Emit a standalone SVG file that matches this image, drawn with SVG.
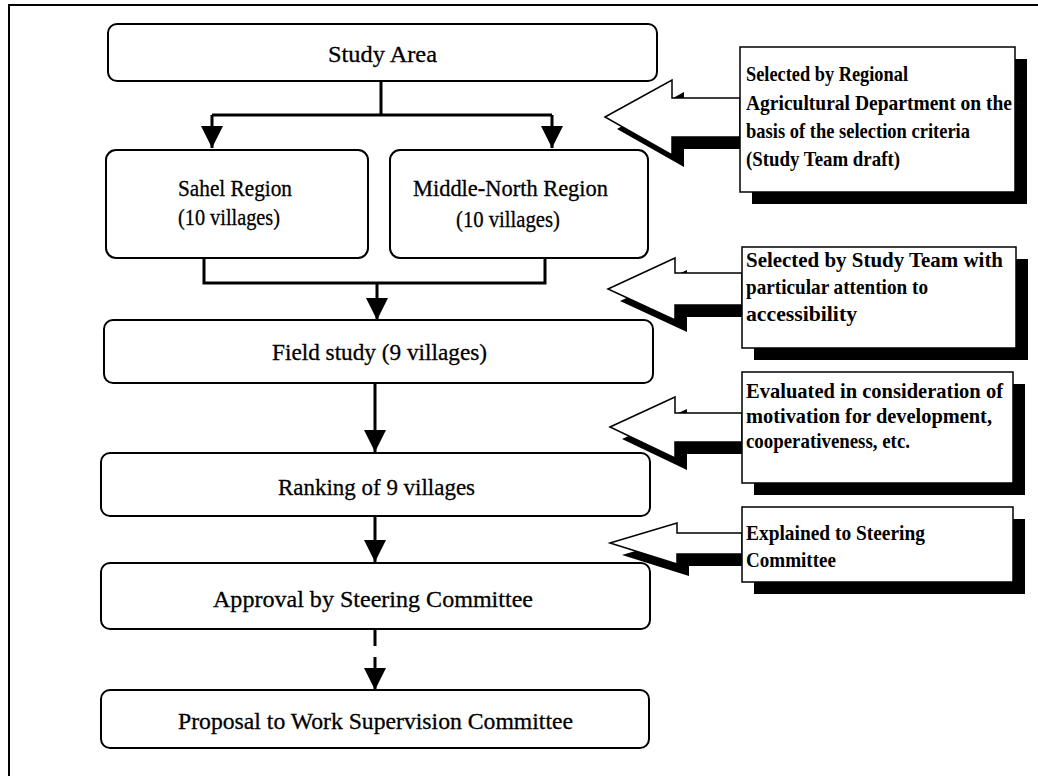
<svg xmlns="http://www.w3.org/2000/svg" width="1038" height="776" viewBox="0 0 1038 776">
  <style>
    .frame { fill: none; stroke: #000; stroke-width: 2; }
    .box { fill: #fff; stroke: #000; stroke-width: 2; }
    .note { fill: #fff; stroke: #000; stroke-width: 1.5; }
    .shadow { fill: #000; stroke: none; }
    .link { fill: none; stroke: #000; stroke-width: 3; }
    .t { font-family: "Liberation Serif", "Times New Roman", serif; font-size: 24px; fill: #000; stroke: #000; stroke-width: 0.3; }
    .n { font-family: "Liberation Serif", "Times New Roman", serif; font-size: 21px; font-weight: bold; fill: #000; }
  </style>
  <defs>
    <marker id="head" markerUnits="userSpaceOnUse" markerWidth="22" markerHeight="22" refX="22" refY="11" orient="auto">
      <path d="M0,0 L22,11 L0,22 Z" fill="#000"/>
    </marker>
  </defs>

  <rect width="1038" height="776" fill="#fff"/>

  <!-- frame: top and left edges -->
  <path class="frame" d="M9,776 V5 H1038"/>

  <!-- flow boxes -->
  <g id="study-area">
    <rect class="box" x="108" y="24" width="549" height="57" rx="9"/>
    <text class="t" x="328" y="62" textLength="109" lengthAdjust="spacingAndGlyphs">Study Area</text>
  </g>
  <g id="sahel-region">
    <rect class="box" x="106" y="150" width="262" height="108" rx="10"/>
    <text class="t" x="178" y="196" textLength="114" lengthAdjust="spacingAndGlyphs">Sahel Region</text>
    <text class="t" x="178" y="225" textLength="102" lengthAdjust="spacingAndGlyphs">(10 villages)</text>
  </g>
  <g id="middle-north-region">
    <rect class="box" x="390" y="150" width="258" height="108" rx="10"/>
    <text class="t" x="413" y="196" textLength="195" lengthAdjust="spacingAndGlyphs">Middle-North Region</text>
    <text class="t" x="456" y="227" textLength="104" lengthAdjust="spacingAndGlyphs">(10 villages)</text>
  </g>
  <g id="field-study">
    <rect class="box" x="104" y="320" width="549" height="63" rx="9"/>
    <text class="t" x="272" y="360" textLength="215" lengthAdjust="spacingAndGlyphs">Field study (9 villages)</text>
  </g>
  <g id="ranking">
    <rect class="box" x="101" y="453" width="549" height="63" rx="9"/>
    <text class="t" x="278" y="495" textLength="197" lengthAdjust="spacingAndGlyphs">Ranking of 9 villages</text>
  </g>
  <g id="approval">
    <rect class="box" x="101" y="563" width="549" height="66" rx="9"/>
    <text class="t" x="213" y="607" textLength="320" lengthAdjust="spacingAndGlyphs">Approval by Steering Committee</text>
  </g>
  <g id="proposal">
    <rect class="box" x="101" y="690" width="548" height="58" rx="9"/>
    <text class="t" x="178" y="729" textLength="395" lengthAdjust="spacingAndGlyphs">Proposal to Work Supervision Committee</text>
  </g>

  <!-- connectors -->
  <g id="connectors">
    <path class="link" d="M381,81 V115"/>
    <path class="link" d="M212,115 H552"/>
    <path class="link" d="M212,115 V148" marker-end="url(#head)"/>
    <path class="link" d="M552,115 V148" marker-end="url(#head)"/>
    <path class="link" d="M204,258 V283 H545 V258"/>
    <path class="link" d="M377,283 V320" marker-end="url(#head)"/>
    <path class="link" d="M375,383 V452" marker-end="url(#head)"/>
    <path class="link" d="M375,516 V562" marker-end="url(#head)"/>
    <path class="link" d="M375,629 V646"/>
    <path class="link" d="M375,657 V690" marker-end="url(#head)"/>
  </g>

  <!-- callout 1 -->
  <g id="note-selection-criteria">
    <path class="shadow" transform="translate(12,12)" d="M605,117 L672,80 V98 H740 V47 H1015 V192 H740 V137 H672 V155 Z"/>
    <path class="note" d="M605,117 L672,80 V98 H740 V137 H672 V155 Z"/>
    <rect class="note" x="740" y="47" width="275" height="145"/>
    <text class="n" x="746" y="81" textLength="162" lengthAdjust="spacingAndGlyphs">Selected by Regional</text>
    <text class="n" x="746" y="110" textLength="266" lengthAdjust="spacingAndGlyphs">Agricultural Department on the</text>
    <text class="n" x="746" y="138" textLength="224" lengthAdjust="spacingAndGlyphs">basis of the selection criteria</text>
    <text class="n" x="746" y="166" textLength="154" lengthAdjust="spacingAndGlyphs">(Study Team draft)</text>
  </g>

  <!-- callout 2 -->
  <g id="note-accessibility">
    <path class="shadow" transform="translate(12,12)" d="M608,289 L675,258 V273 H742 V247 H1016 V348 H742 V305 H675 V320 Z"/>
    <path class="note" d="M608,289 L675,258 V273 H742 V305 H675 V320 Z"/>
    <rect class="note" x="742" y="247" width="274" height="101"/>
    <text class="n" x="746" y="267" textLength="257" lengthAdjust="spacingAndGlyphs">Selected by Study Team with</text>
    <text class="n" x="746" y="294" textLength="182" lengthAdjust="spacingAndGlyphs">particular attention to</text>
    <text class="n" x="746" y="321" textLength="111" lengthAdjust="spacingAndGlyphs">accessibility</text>
  </g>

  <!-- callout 3 -->
  <g id="note-evaluation">
    <path class="shadow" transform="translate(12,12)" d="M610,427 L675,397 V413 H742 V372 H1013 V483 H742 V442 H675 V458 Z"/>
    <path class="note" d="M610,427 L675,397 V413 H742 V442 H675 V458 Z"/>
    <rect class="note" x="742" y="372" width="271" height="111"/>
    <text class="n" x="746" y="398" textLength="257" lengthAdjust="spacingAndGlyphs">Evaluated in consideration of</text>
    <text class="n" x="746" y="423" textLength="246" lengthAdjust="spacingAndGlyphs">motivation for development,</text>
    <text class="n" x="746" y="448" textLength="164" lengthAdjust="spacingAndGlyphs">cooperativeness, etc.</text>
  </g>

  <!-- callout 4 -->
  <g id="note-steering">
    <path class="shadow" transform="translate(12,12)" d="M610,543 L677,523 V533 H742 V507 H1013 V582 H742 V554 H677 V564 Z"/>
    <path class="note" d="M610,543 L677,523 V533 H742 V554 H677 V564 Z"/>
    <rect class="note" x="742" y="507" width="271" height="75"/>
    <text class="n" x="746" y="540" textLength="179" lengthAdjust="spacingAndGlyphs">Explained to Steering</text>
    <text class="n" x="746" y="567" textLength="90" lengthAdjust="spacingAndGlyphs">Committee</text>
  </g>
</svg>
